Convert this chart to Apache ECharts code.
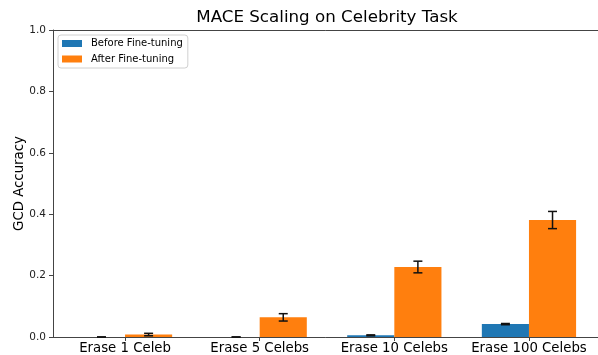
<!DOCTYPE html>
<html>
<head>
<meta charset="utf-8">
<script src="https://cdn.jsdelivr.net/npm/echarts@6/dist/echarts.min.js"></script>
<style>
  html, body { margin: 0; padding: 0; background: #fff; }
  #chart { width: 598px; height: 355px; }
</style>
</head>
<body>
<div id="chart"></div>
<script>
// Celebrity-erasure scaling results for MACE
const categories = ['Erase 1 Celeb', 'Erase 5 Celebs', 'Erase 10 Celebs', 'Erase 100 Celebs'];
const beforeValues = [0.0, 0.0, 0.0055, 0.042];
const beforeErrors = [0.0, 0.0, 0.0015, 0.002];
const afterValues = [0.008, 0.064, 0.228, 0.381];
const afterErrors = [0.004, 0.012, 0.019, 0.028];
const yTicks = [0, 0.2, 0.4, 0.6, 0.8, 1.0];

const FONT = 'DejaVu Sans';
const BAR_W = 0.35;          // bar width in category units
const SPINE = '#444';
const BLUE = '#1f77b4';
const ORANGE = '#ff7f0e';

function barRenderer(offset) {
  return function (params, api) {
    const i = api.value(0);
    const v = api.value(1);
    const topLeft = api.coord([i + offset - BAR_W / 2, v]);
    const bottomRight = api.coord([i + offset + BAR_W / 2, 0]);
    return {
      type: 'rect',
      shape: {
        x: topLeft[0],
        y: topLeft[1],
        width: bottomRight[0] - topLeft[0],
        height: bottomRight[1] - topLeft[1]
      },
      style: { fill: api.visual('color') }
    };
  };
}

function errorRenderer(offset) {
  return function (params, api) {
    const i = api.value(0);
    const v = api.value(1);
    const e = api.value(2);
    const hi = api.coord([i + offset, v + e]);
    const lo = api.coord([i + offset, v - e]);
    const cap = 4.5;
    const style = { stroke: '#111', lineWidth: 1.5 };
    return {
      type: 'group',
      children: [
        { type: 'line', shape: { x1: hi[0], y1: hi[1], x2: lo[0], y2: lo[1] }, style },
        { type: 'line', shape: { x1: hi[0] - cap, y1: hi[1], x2: hi[0] + cap, y2: hi[1] }, style },
        { type: 'line', shape: { x1: lo[0] - cap, y1: lo[1], x2: lo[0] + cap, y2: lo[1] }, style }
      ]
    };
  };
}

const beforeData = categories.map((c, i) => [i, beforeValues[i]]);
const afterData = categories.map((c, i) => [i, afterValues[i]]);
const beforeErrData = categories.map((c, i) => [i, beforeValues[i], beforeErrors[i]]);
const afterErrData = categories.map((c, i) => [i, afterValues[i], afterErrors[i]]);
const catIndex = categories.map((c, i) => i);

const chart = echarts.init(document.getElementById('chart'), null, { renderer: 'canvas' });

chart.setOption({
  animation: false,
  backgroundColor: '#fff',
  textStyle: { fontFamily: FONT },
  title: {
    text: 'MACE Scaling on Celebrity Task',
    left: 327,
    top: 9,
    padding: 0,
    textAlign: 'center',
    textStyle: { fontFamily: FONT, fontSize: 16.7, fontWeight: 'normal', color: '#000' }
  },
  legend: {
    orient: 'vertical',
    left: 58,
    top: 35,
    width: 129,
    padding: [3.5, 5, 4, 4],
    itemGap: 5.5,
    itemWidth: 20,
    itemHeight: 7,
    icon: 'rect',
    backgroundColor: '#fff',
    borderColor: '#d0d0d0',
    borderWidth: 1,
    borderRadius: 3,
    textStyle: { fontFamily: FONT, fontSize: 10, color: '#000', padding: [0, 0, 0, 4] },
    data: ['Before Fine-tuning', 'After Fine-tuning']
  },
  grid: {
    left: 53,
    top: 30,
    width: 548,
    height: 307,
    containLabel: false,
    outerBoundsMode: 'none'
  },
  xAxis: [
    {
      type: 'value',
      min: -0.535,
      max: 3.535,
      splitLine: { show: false },
      axisLine: { show: true, onZero: false, lineStyle: { color: SPINE, width: 1 } },
      axisTick: { show: true, length: 4, customValues: catIndex, lineStyle: { color: SPINE } },
      axisLabel: {
        customValues: catIndex,
        margin: 5,
        fontFamily: FONT,
        fontSize: 13.3,
        color: '#000',
        formatter: v => categories[Math.round(v)] || ''
      }
    },
    {
      type: 'value',
      position: 'top',
      min: -0.535,
      max: 3.535,
      splitLine: { show: false },
      axisLine: { show: true, onZero: false, lineStyle: { color: SPINE, width: 1 } },
      axisTick: { show: false },
      axisLabel: { show: false }
    }
  ],
  yAxis: {
    type: 'value',
    position: 'left',
    min: 0,
    max: 1,
    interval: 0.2,
    name: 'GCD Accuracy',
    nameLocation: 'middle',
    nameRotate: 90,
    nameGap: 27,
    nameMoveOverlap: false,
    nameTextStyle: { fontFamily: FONT, fontSize: 13.3, color: '#000' },
    splitLine: { show: false },
    axisLine: { show: true, onZero: false, lineStyle: { color: SPINE, width: 1 } },
    axisTick: { show: true, length: 4, lineStyle: { color: SPINE } },
    axisLabel: {
      customValues: yTicks,
      margin: 7,
      fontFamily: FONT,
      fontSize: 10.5,
      color: '#222',
      formatter: v => v.toFixed(1)
    }
  },
  series: [
    {
      name: 'Before Fine-tuning',
      type: 'custom',
      itemStyle: { color: BLUE },
      renderItem: barRenderer(-BAR_W / 2),
      encode: { x: 0, y: 1 },
      data: beforeData,
      z: 2
    },
    {
      name: 'After Fine-tuning',
      type: 'custom',
      itemStyle: { color: ORANGE },
      renderItem: barRenderer(BAR_W / 2),
      encode: { x: 0, y: 1 },
      data: afterData,
      z: 2
    },
    {
      name: 'before-err',
      type: 'custom',
      renderItem: errorRenderer(-BAR_W / 2),
      encode: { x: 0, y: 1 },
      data: beforeErrData,
      z: 3
    },
    {
      name: 'after-err',
      type: 'custom',
      renderItem: errorRenderer(BAR_W / 2),
      encode: { x: 0, y: 1 },
      data: afterErrData,
      z: 3
    }
  ]
});
</script>
</body>
</html>
